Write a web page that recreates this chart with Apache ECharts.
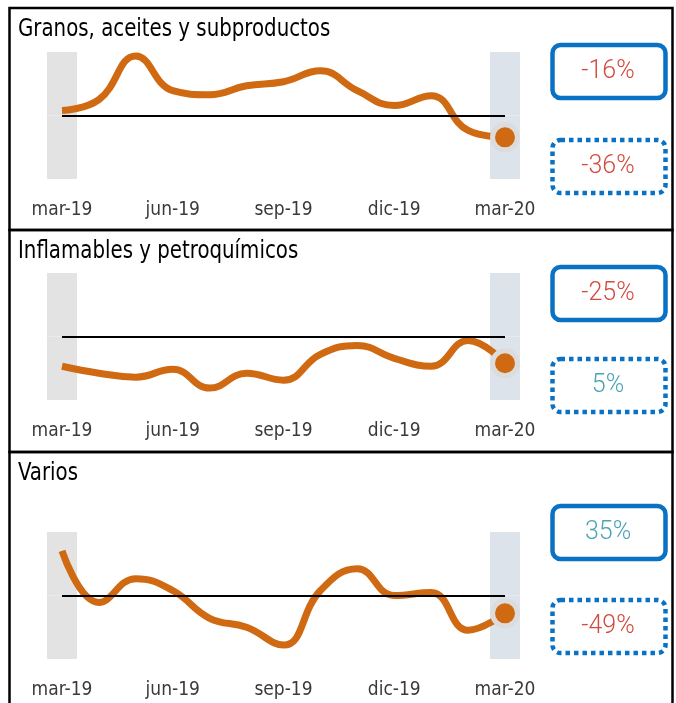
<!DOCTYPE html>
<html>
<head>
<meta charset="utf-8">
<script src="https://cdn.jsdelivr.net/npm/echarts@6/dist/echarts.min.js"></script>
<style>
  html, body { margin: 0; padding: 0; background: #fff; }
  #chart { width: 676px; height: 703px; }
</style>
</head>
<body>
<div id="chart"></div>
<script>
// meses (eje x), solo se muestran mar, jun, sep, dic, mar
const months = ['mar-19','abr-19','may-19','jun-19','jul-19','ago-19','sep-19','oct-19','nov-19','dic-19','ene-20','feb-20','mar-20'];

const titles = ['Granos, aceites y subproductos', 'Inflamables y petroquímicos', 'Varios'];

// desvio respecto de la linea de referencia
const granos = [5, 16, 60, 25, 21, 30, 34, 45, 25, 10, 20, -15, -22];
const inflamables = [-30, -37, -41, -33, -52, -37, -44, -18, -9, -22, -30, -4, -27];
const varios = [45, -7, 17, 5, -23, -32, -50, 5, 27, 0, 3, -35, -18];

// variaciones de los recuadros
const varAnual = ['-16%', '-25%', '35%'];
const varMensual = ['-36%', '5%', '-49%'];

const seriesData = [granos, inflamables, varios];
const yMax = 64;

const ORANGE = '#d06a12';
const BLUE = '#0a72c4';
const RED = '#d24b3f';
const TEAL = '#4aa4b3';
const FONT = '"DejaVu Sans Condensed", "DejaVu Sans", sans-serif';

const gridTops = [52, 273, 532];
const panelTops = [8, 230, 452];
const boxTops = [[45, 140], [267, 359], [506, 600]];

let chart = echarts.init(document.getElementById('chart'));

let grids = [], xAxes = [], yAxes = [], series = [], graphics = [];

seriesData.forEach(function (data, i) {
    grids.push({ left: 62, width: 443, top: gridTops[i], height: 127 });
    xAxes.push({
        type: 'category',
        gridIndex: i,
        data: months,
        boundaryGap: false,
        axisLine: { show: false },
        axisTick: { show: false },
        axisLabel: {
            interval: 2,
            margin: 22,
            fontSize: 19,
            fontFamily: FONT,
            color: '#3a3a3a'
        }
    });
    yAxes.push({
        type: 'value',
        gridIndex: i,
        min: -yMax,
        max: yMax,
        show: false,
        splitLine: { show: false }
    });

    // bandas grises al inicio y al final
    let last = data.length - 1;
    let up = data.map(function (v, k) {
        if (k === 0) return { value: yMax, itemStyle: { color: '#e3e3e3' } };
        if (k === last) return { value: yMax, itemStyle: { color: '#dde3ea' } };
        return '-';
    });
    let down = up.map(function (d) {
        return d === '-' ? '-' : { value: -yMax, itemStyle: d.itemStyle };
    });
    series.push({
        type: 'bar', xAxisIndex: i, yAxisIndex: i, stack: 'band' + i,
        barWidth: 30, clip: false, silent: true, z: 1, data: up,
        markLine: {
            symbol: 'none', silent: true,
            label: { show: false },
            lineStyle: { color: '#000', width: 2, type: 'solid' },
            data: [{ yAxis: 0 }]
        }
    });
    series.push({
        type: 'bar', xAxisIndex: i, yAxisIndex: i, stack: 'band' + i,
        barWidth: 30, clip: false, silent: true, z: 1, data: down
    });
    series.push({
        type: 'line', xAxisIndex: i, yAxisIndex: i,
        smooth: 0.45, showSymbol: false, z: 3,
        lineStyle: { color: ORANGE, width: 7 },
        data: data
    });
    series.push({
        type: 'scatter', xAxisIndex: i, yAxisIndex: i, z: 4, clip: false,
        symbolSize: 25,
        itemStyle: { color: ORANGE, opacity: 1, borderColor: '#dcdcdc', borderWidth: 5 },
        data: [[last, data[last]]]
    });

    // marco del panel
    graphics.push({
        type: 'rect', z: 10,
        shape: { x: 9.5, y: panelTops[i], width: 663, height: i === 2 ? 270 : 222 },
        style: { fill: 'none', stroke: '#000', lineWidth: 2.5 }
    });
    graphics.push({
        type: 'text', x: 18, y: panelTops[i] + 9, z: 10,
        scaleX: 0.88,
        style: { text: titles[i], font: '25px ' + FONT, fill: '#000' }
    });

    // recuadros de variacion
    [varAnual[i], varMensual[i]].forEach(function (txt, b) {
        let by = boxTops[i][b];
        graphics.push({
            type: 'rect', z: 10,
            shape: { x: 552.5, y: by, width: 113, height: 53, r: 8 },
            style: {
                fill: '#fff', stroke: BLUE, lineWidth: 4.5,
                lineDash: b === 1 ? [4.5, 4] : null
            }
        });
        graphics.push({
            type: 'text', z: 11,
            x: 608, y: by + 27,
            style: {
                text: txt, font: '300 25px Roboto, sans-serif',
                fill: txt.charAt(0) === '-' ? RED : TEAL,
                align: 'center', verticalAlign: 'middle'
            }
        });
    });
});

let option = {
    animation: false,
    grid: grids,
    xAxis: xAxes,
    yAxis: yAxes,
    series: series,
    graphic: graphics
};
chart.setOption(option);
</script>
</body>
</html>
